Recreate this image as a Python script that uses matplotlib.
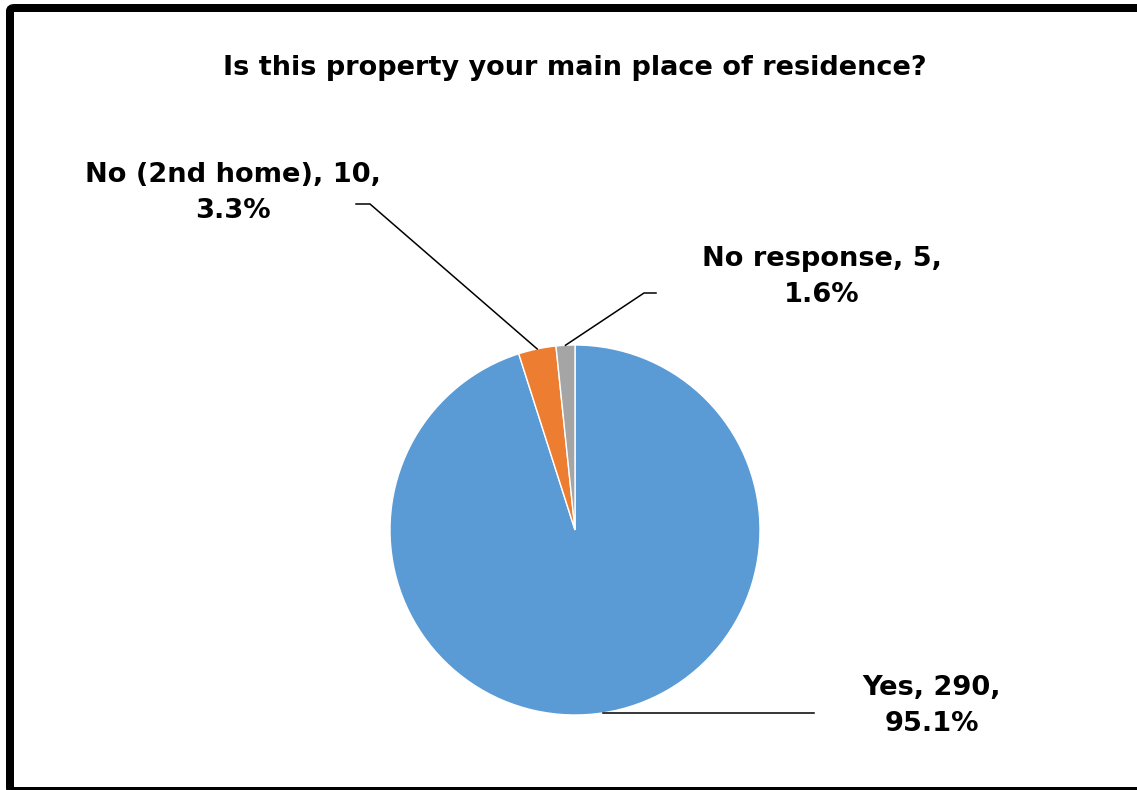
import numpy as np
import matplotlib
matplotlib.use("Agg")
import matplotlib.pyplot as plt
from matplotlib.patches import FancyBboxPatch

title = "Is this property your main place of residence?"
categories = ["Yes", "No (2nd home)", "No response"]
counts = [290, 10, 5]
percents = [95.1, 3.3, 1.6]
colors = ["#5B9BD5", "#ED7D31", "#A5A5A5"]

W, H = 1137, 790
fig = plt.figure(figsize=(W / 100, H / 100), dpi=100)
fig.patch.set_facecolor("white")

# pie placement (pixels)
cx, cy, R = 575, 530, 185
ax = fig.add_axes([(cx - R) / W, (H - cy - R) / H, 2 * R / W, 2 * R / H])
wedges, _ = ax.pie(counts, colors=colors, startangle=90, counterclock=False,
                   radius=1, wedgeprops=dict(edgecolor="white", linewidth=1))
ax.set_xlim(-1, 1)
ax.set_ylim(-1, 1)
ax.set_aspect("equal")
ax.axis("off")

def px2d(px, py):
    return (px - cx) / R, (cy - py) / R

font = dict(family=["DejaVu Sans"], fontweight="bold", color="black")

# label text positions (pixels) and leader elbows
label_pos = [(932, 706), (233, 193), (822, 277)]
elbows = [[(814, 712)], [(370, 204), (356, 204)], [(644, 293), (656, 293)]]

for w, cat, n, p, (lx, ly), elb in zip(wedges, categories, counts, percents, label_pos, elbows):
    mid = np.deg2rad((w.theta1 + w.theta2) / 2)
    ax_pt = (np.cos(mid), np.sin(mid))
    pts = [ax_pt] + [px2d(*e) for e in elb]
    if cat == "Yes":
        pts[1] = (pts[1][0], ax_pt[1])
    xs, ys = zip(*pts)
    ax.plot(xs, ys, color="black", lw=1.1, clip_on=False)
    tx, ty = px2d(lx, ly)
    ax.text(tx, ty, f"{cat}, {n},\n{p}%", ha="center", va="center",
            fontsize=19.6, linespacing=1.5, **font)

fig.text(575 / W, 1 - 68 / H, title, ha="center", va="center", fontsize=19.5, **font)

# chart frame
lw_px = 8
frame = FancyBboxPatch((10 / W, 1 - 791 / H), (1160 - 10) / W, (791 - 8) / H,
                       boxstyle="round,pad=0,rounding_size=0.004",
                       transform=fig.transFigure, fill=False,
                       edgecolor="black", linewidth=lw_px * 0.72)
fig.add_artist(frame)

fig.savefig("out.png", dpi=100)
